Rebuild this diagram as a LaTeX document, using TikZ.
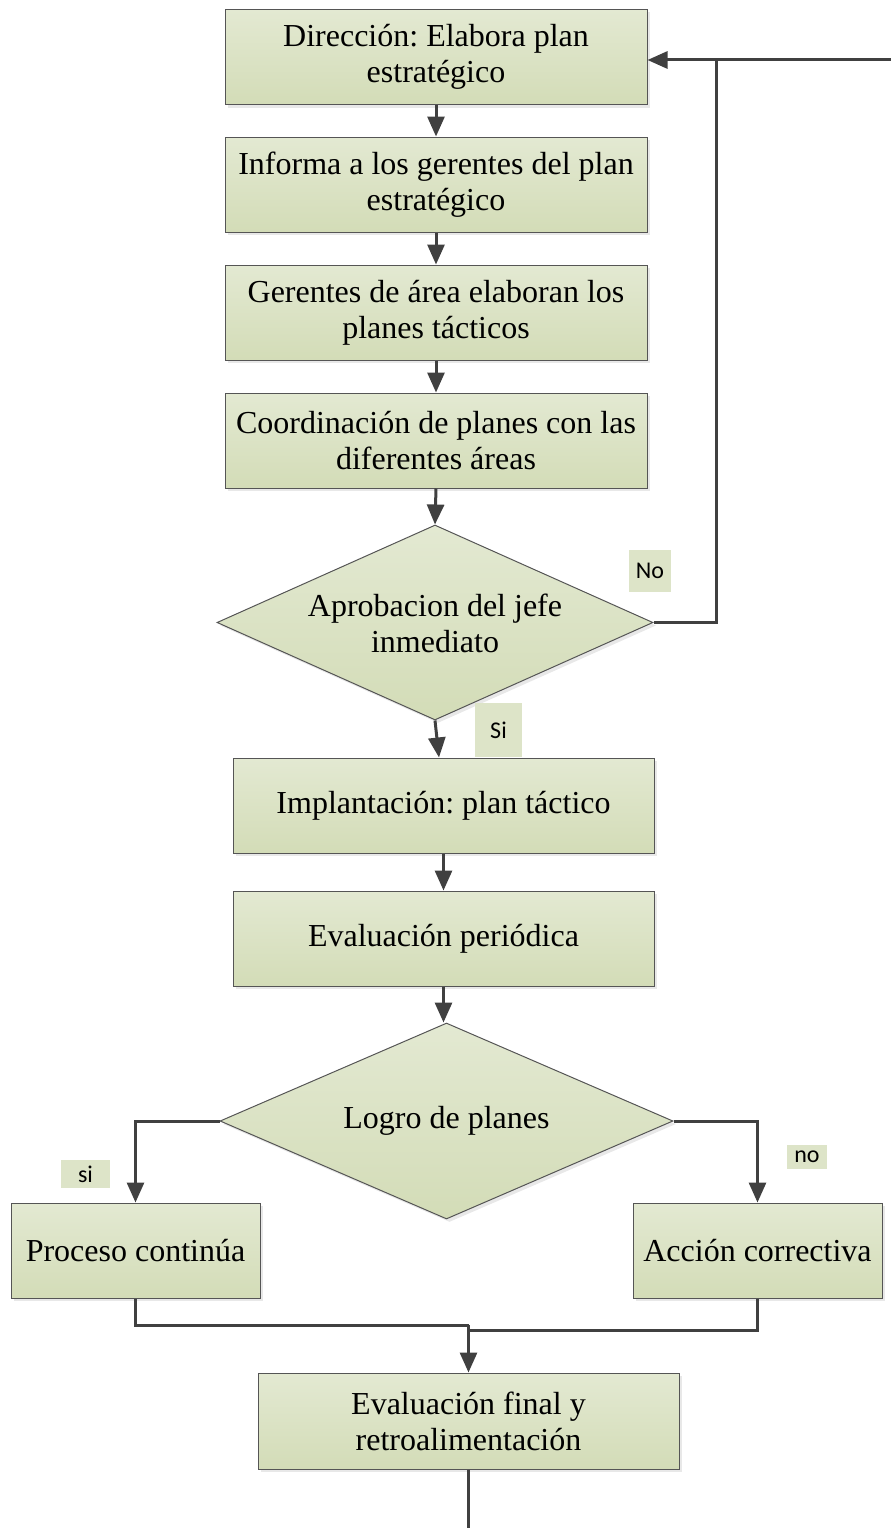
\documentclass[tikz,border=0pt]{standalone}
\usepackage{fontspec}
\setmainfont{Liberation Serif}
\newfontfamily\lblfont{Carlito}
\usetikzlibrary{arrows.meta,shapes.geometric,shadows}
\definecolor{boxtop}{RGB}{227,233,210}
\definecolor{boxbot}{RGB}{211,220,183}
\definecolor{lblfill}{RGB}{221,228,200}
\definecolor{edge}{RGB}{85,85,85}
\definecolor{conn}{RGB}{64,64,64}
\frenchspacing
\tikzset{
  procbox/.style={rectangle, draw=edge, line width=1pt, top color=boxtop, bottom color=boxbot,
    minimum width=422pt, minimum height=95pt, inner sep=0pt, align=center,
    font=\frenchspacing\fontsize{32}{36}\selectfont,
    drop shadow={shadow xshift=3pt, shadow yshift=-3pt, fill=black!18}},
  decide/.style={diamond, draw=edge, line width=1pt, top color=boxtop, bottom color=boxbot,
    inner sep=0pt, align=center, font=\fontsize{32}{36}\selectfont,
    drop shadow={shadow xshift=3pt, shadow yshift=-3pt, fill=black!18}},
  lbl/.style={rectangle, fill=lblfill, inner sep=0pt, font=\lblfont\fontsize{24}{26}\selectfont},
  conline/.style={draw=conn, line width=3pt},
  arr/.style={conline, -{Triangle[length=20pt, width=17pt]}}
}
\begin{document}
\begin{tikzpicture}[x=1pt,y=-1pt]
\useasboundingbox (0,0) rectangle (891,1528);
\node[procbox] (b1) at (436,57) {Dirección: Elabora plan\\estratégico};
\node[procbox] (b2) at (436,184.5) {Informa a los gerentes del plan\\estratégico};
\node[procbox] (b3) at (436,312.5) {Gerentes de área elaboran los\\planes tácticos};
\node[procbox] (b4) at (436,440.5) {Coordinación de planes con las\\diferentes áreas};
\node[decide, minimum width=436pt, minimum height=195pt] (d1) at (435,622.5) {};
\node[align=center, font=\fontsize{32}{36}\selectfont] (d1t) at (435,623) {Aprobacion del jefe\\inmediato};
\node[procbox, minimum width=421pt] (b5) at (443.5,805.5) {Implantación: plan táctico};
\node[procbox, minimum width=421pt] (b6) at (443.5,938.5) {Evaluación periódica};
\node[decide, minimum width=453pt, minimum height=196pt] (d2) at (446.5,1121) {};
\node[font=\fontsize{32}{36}\selectfont] (d2t) at (446.5,1121) {Logro de planes};
\node[procbox, minimum width=249pt] (b7) at (135.5,1250.5) {Proceso continúa};
\node[procbox, minimum width=249pt] (b8) at (757.5,1250.5) {Acción correctiva};
\node[procbox, minimum width=421pt, minimum height=96pt] (b9) at (468.5,1421) {Evaluación final y\\retroalimentación};

\node[lbl, minimum width=42pt, minimum height=42pt] (lno) at (650,571) {No};
\node[lbl, minimum width=47pt, minimum height=54pt] (lsi) at (498.5,730) {Si};
\node[lbl, minimum width=49pt, minimum height=28pt] (lsi2) at (85.5,1174) {si};
\node[lbl, minimum width=40pt, minimum height=24pt] (lno2) at (807,1157) {no};

\coordinate (lp) at (716,60);
\coordinate (rt) at (891,60);
\coordinate (m) at (468.5,1325);
\coordinate (m2) at (468.5,1330);
\coordinate (fin) at (468.5,1528);

\draw[arr] (b1) -- (b2);
\draw[arr] (b2) -- (b3);
\draw[arr] (b3) -- (b4);
\draw[arr] (b4.south) -- (d1.north);
\draw[conline] (d1.east) -| (lp);
\draw[arr] (rt) -- (rt -| b1.east);
\draw[arr] (d1.south) -- ([xshift=-4.5pt]b5.north);
\draw[arr] (b5) -- (b6);
\draw[arr] (b6.south) -- (b6.south |- d2.north);
\draw[arr] (d2.west) -| (b7.north);
\draw[arr] (d2.east) -| (b8.north);
\draw[conline] (b7.south) |- (m);
\draw[conline] (b8.south) |- (m2);
\draw[arr] (m) -- (b9.north);
\draw[conline] (b9.south) -- (fin);
\end{tikzpicture}
\end{document}
